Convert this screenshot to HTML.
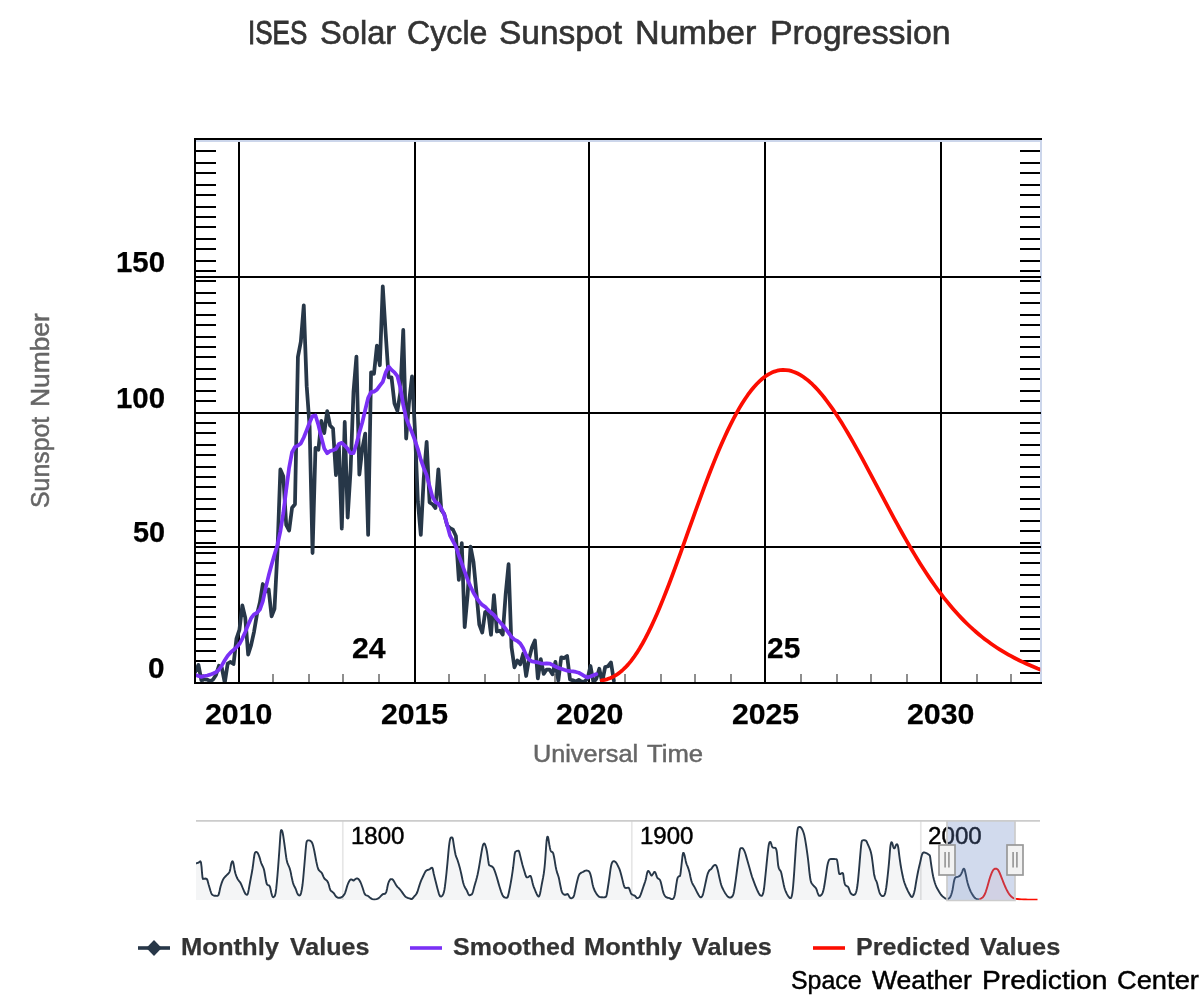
<!DOCTYPE html>
<html lang="en"><head><meta charset="utf-8"><title>ISES Solar Cycle Sunspot Number Progression</title>
<style>
html,body{margin:0;padding:0;background:#fff;}
body{width:1200px;height:1000px;position:relative;overflow:hidden;font-family:"Liberation Sans",sans-serif;}
.t{position:absolute;white-space:nowrap;line-height:1;transform-origin:0 0;display:block;}
.c{transform:translateX(-50%);}
.b{font-weight:bold;}
.s1{-webkit-text-stroke:0.6px #333;}
.s2{-webkit-text-stroke:0.5px #666;}
.s3{-webkit-text-stroke:0.45px #000;}
.s4{-webkit-text-stroke:0.25px;}
</style></head>
<body>
<svg width="1200" height="1000" viewBox="0 0 1200 1000" style="position:absolute;left:0;top:0">
<defs><clipPath id="pc"><rect x="195" y="141" width="845.2" height="542"/></clipPath><clipPath id="nc"><rect x="196" y="821" width="844" height="79.5"/></clipPath></defs>
<rect width="1200" height="1000" fill="#fff"/>
<rect x="195" y="140" width="847" height="2" fill="#ccd6eb"/>
<rect x="1040" y="140" width="2" height="543" fill="#ccd6eb"/>
<rect x="238" y="142" width="2" height="541" fill="#000"/>
<rect x="414" y="142" width="2" height="541" fill="#000"/>
<rect x="588" y="142" width="2" height="541" fill="#000"/>
<rect x="764" y="142" width="2" height="541" fill="#000"/>
<rect x="940" y="142" width="2" height="541" fill="#000"/>
<rect x="196" y="276" width="845" height="2" fill="#000"/>
<rect x="196" y="412" width="845" height="2" fill="#000"/>
<rect x="196" y="546" width="845" height="2" fill="#000"/>
<path d="M196 151 h20 M1020 151 h20 M196 163 h20 M1020 163 h20 M196 173 h20 M1020 173 h20 M196 185 h20 M1020 185 h20 M196 195 h20 M1020 195 h20 M196 207 h20 M1020 207 h20 M196 217 h20 M1020 217 h20 M196 227 h20 M1020 227 h20 M196 239 h20 M1020 239 h20 M196 249 h20 M1020 249 h20 M196 261 h20 M1020 261 h20 M196 271 h20 M1020 271 h20 M196 281 h20 M1020 281 h20 M196 293 h20 M1020 293 h20 M196 303 h20 M1020 303 h20 M196 315 h20 M1020 315 h20 M196 325 h20 M1020 325 h20 M196 337 h20 M1020 337 h20 M196 347 h20 M1020 347 h20 M196 357 h20 M1020 357 h20 M196 369 h20 M1020 369 h20 M196 379 h20 M1020 379 h20 M196 391 h20 M1020 391 h20 M196 401 h20 M1020 401 h20 M196 413 h20 M1020 413 h20 M196 423 h20 M1020 423 h20 M196 433 h20 M1020 433 h20 M196 445 h20 M1020 445 h20 M196 455 h20 M1020 455 h20 M196 467 h20 M1020 467 h20 M196 477 h20 M1020 477 h20 M196 487 h20 M1020 487 h20 M196 499 h20 M1020 499 h20 M196 509 h20 M1020 509 h20 M196 521 h20 M1020 521 h20 M196 531 h20 M1020 531 h20 M196 543 h20 M1020 543 h20 M196 553 h20 M1020 553 h20 M196 563 h20 M1020 563 h20 M196 575 h20 M1020 575 h20 M196 585 h20 M1020 585 h20 M196 597 h20 M1020 597 h20 M196 607 h20 M1020 607 h20 M196 617 h20 M1020 617 h20 M196 629 h20 M1020 629 h20 M196 639 h20 M1020 639 h20 M196 651 h20 M1020 651 h20 M196 661 h20 M1020 661 h20 M1020 673 h20" stroke="#000" stroke-width="1.8" fill="none"/>
<path d="M203 674 v8 M273 674 v8 M309 674 v8 M343 674 v8 M379 674 v8 M449 674 v8 M485 674 v8 M519 674 v8 M555 674 v8 M625 674 v8 M661 674 v8 M695 674 v8 M731 674 v8 M801 674 v8 M837 674 v8 M871 674 v8 M907 674 v8 M977 674 v8 M1011 674 v8" stroke="#8e8e8e" stroke-width="2" fill="none"/>
<g clip-path="url(#pc)" fill="none" stroke-linejoin="round" stroke-linecap="round">
<path d="M195.51 671.4 L198.44 664.89 L201.36 680.09 L204.29 679.27 L207.22 679.54 L210.14 681.17 L213.07 679.54 L215.99 674.93 L218.92 665.7 L221.84 667.87 L224.77 682.8 L227.7 663.53 L230.62 661.9 L233.55 664.07 L236.47 638.56 L239.4 629.88 L242.33 605.45 L245.25 617.66 L248.18 654.57 L251.1 645.08 L254.03 631.78 L256.95 614.41 L259.88 602.47 L262.81 584.01 L265.73 591.61 L268.66 589.44 L271.58 616.31 L274.51 608.71 L277.44 551.71 L280.36 469.48 L283.29 476.26 L286.21 524.85 L289.14 530.54 L292.06 507.75 L294.99 504.22 L297.92 356.85 L300.84 341.65 L303.77 305.28 L306.69 386.16 L309.62 426.6 L312.55 553.07 L315.47 447.77 L318.4 449.67 L321.32 420.9 L324.25 433.11 L327.18 411.13 L330.1 425.51 L333.03 428.5 L335.95 475.18 L338.88 445.05 L341.8 528.64 L344.73 421.98 L347.66 517.52 L350.58 470.29 L353.51 391.59 L356.43 356.58 L359.36 474.64 L362.28 448.85 L365.21 433.65 L368.14 534.89 L371.06 372.32 L373.99 373.68 L376.91 345.72 L379.84 365.26 L382.77 286.28 L385.69 333.51 L388.62 377.47 L391.54 377.47 L394.47 403.53 L397.39 410.86 L400.32 392.67 L403.25 329.98 L406.17 438.54 L409.1 401.63 L412.02 376.39 L414.95 430.4 L417.88 501.78 L420.8 534.89 L423.73 478.44 L426.65 441.8 L429.58 502.32 L432.5 504.22 L435.43 508.02 L438.36 469.48 L441.28 510.19 L444.21 513.99 L447.13 525.39 L450.06 528.1 L452.99 529.73 L455.91 535.97 L458.84 579.94 L461.76 543.03 L464.69 627.16 L467.62 594.87 L470.54 546.56 L473.47 561.76 L476.39 592.15 L479.32 624.72 L482.24 632.59 L485.17 611.96 L488.1 611.15 L491.02 634.76 L493.95 595.14 L496.87 631.51 L499.8 630.69 L502.73 634.49 L505.65 594.32 L508.58 564.2 L511.5 646.98 L514.43 667.33 L517.35 660.55 L520.28 664.34 L523.21 653.76 L526.13 676.01 L529.06 658.65 L531.98 647.25 L534.91 640.46 L537.84 678.46 L540.76 659.19 L543.69 673.84 L546.61 669.5 L549.54 669.5 L552.46 674.39 L555.39 661.9 L558.32 680.63 L561.24 657.29 L564.17 658.1 L567.09 655.93 L570.02 679.54 L572.95 680.36 L575.87 681.44 L578.8 679.81 L581.72 681.71 L584.65 681.44 L587.57 678.73 L590.5 665.97 L593.43 682.26 L596.35 678.73 L599.28 668.69 L602.2 682.26 L605.13 667.06 L608.05 666.24 L610.98 662.44 L613.91 680.9" stroke="#273748" stroke-width="3.75"/>
<path d="M195.51 674.93 L198.44 676.01 L201.36 676.83 L204.29 676.01 L207.22 675.47 L210.14 674.66 L213.07 673.57 L215.99 672.22 L218.92 669.77 L221.84 665.43 L224.77 660.27 L227.7 655.66 L230.62 652.4 L233.55 649.96 L236.47 647.25 L239.4 643.99 L242.33 638.56 L245.25 632.05 L248.18 624.72 L251.1 618.21 L254.03 614.41 L256.95 612.78 L259.88 609.52 L262.81 601.38 L265.73 587.81 L268.66 575.6 L271.58 564.74 L274.51 554.43 L277.44 544.93 L280.36 531.36 L283.29 513.17 L286.21 490.11 L289.14 467.58 L292.06 452.11 L294.99 446.95 L297.92 445.6 L300.84 443.43 L303.77 437.45 L306.69 430.13 L309.62 422.53 L312.55 416.01 L315.47 415.47 L318.4 424.97 L321.32 437.18 L324.25 448.58 L327.18 453.2 L330.1 451.02 L333.03 450.21 L335.95 448.85 L338.88 443.97 L341.8 442.88 L344.73 445.6 L347.66 448.85 L350.58 453.2 L353.51 453.2 L356.43 443.97 L359.36 432.57 L362.28 422.53 L365.21 410.04 L368.14 397.83 L371.06 392.13 L373.99 391.59 L376.91 389.69 L379.84 385.62 L382.77 381.82 L385.69 372.59 L388.62 366.62 L391.54 369.88 L394.47 372.32 L397.39 376.12 L400.32 387.52 L403.25 404.89 L406.17 418.18 L409.1 425.78 L412.02 432.57 L414.95 440.44 L417.88 449.12 L420.8 459.71 L423.73 467.85 L426.65 475.18 L429.58 486.31 L432.5 496.89 L435.43 502.05 L438.36 503.68 L441.28 508.29 L444.21 514.53 L447.13 524.85 L450.06 535.7 L452.99 541.13 L455.91 546.56 L458.84 555.51 L461.76 563.38 L464.69 571.53 L467.62 579.67 L470.54 586.45 L473.47 592.7 L476.39 597.58 L479.32 601.65 L482.24 604.91 L485.17 606.81 L488.1 610.06 L491.02 612.51 L493.95 614.95 L496.87 618.75 L499.8 622.01 L502.73 625.26 L505.65 628.79 L508.58 632.86 L511.5 636.93 L514.43 639.65 L517.35 641 L520.28 643.45 L523.21 648.33 L526.13 655.12 L529.06 659.73 L531.98 661.36 L534.91 661.9 L537.84 662.44 L540.76 663.26 L543.69 663.53 L546.61 663.26 L549.54 663.53 L552.46 664.89 L555.39 666.52 L558.32 667.87 L561.24 668.69 L564.17 669.77 L567.09 670.59 L570.02 671.13 L572.95 671.4 L575.87 671.94 L578.8 672.76 L581.72 674.39 L584.65 676.29 L587.57 677.37 L590.5 676.56 L593.43 675.2 L596.35 674.12" stroke="#7a30f5" stroke-width="3.75"/>
<path d="M601.7 680.41 L604.62 679.86 L607.55 679.07 L610.47 678 L613.4 676.63 L616.32 674.93 L619.25 672.89 L622.17 670.5 L625.1 667.73 L628.02 664.6 L630.95 661.08 L633.87 657.19 L636.8 652.91 L639.72 648.27 L642.65 643.26 L645.57 637.89 L648.5 632.19 L651.42 626.16 L654.35 619.82 L657.27 613.19 L660.2 606.29 L663.12 599.15 L666.05 591.79 L668.97 584.23 L671.9 576.49 L674.82 568.62 L677.75 560.62 L680.67 552.53 L683.6 544.37 L686.52 536.18 L689.45 527.97 L692.37 519.78 L695.3 511.62 L698.22 503.53 L701.15 495.52 L704.07 487.63 L707 479.87 L709.92 472.27 L712.85 464.83 L715.77 457.59 L718.7 450.56 L721.62 443.75 L724.55 437.19 L727.47 430.87 L730.4 424.82 L733.32 419.05 L736.25 413.57 L739.17 408.39 L742.1 403.51 L745.02 398.95 L747.95 394.71 L750.87 390.79 L753.8 387.21 L756.72 383.96 L759.65 381.05 L762.57 378.48 L765.5 376.25 L768.42 374.36 L771.35 372.8 L774.27 371.59 L777.2 370.7 L780.12 370.15 L783.05 369.92 L785.97 370.02 L788.9 370.43 L791.82 371.15 L794.75 372.17 L797.67 373.49 L800.6 375.09 L803.52 376.98 L806.45 379.14 L809.37 381.56 L812.3 384.23 L815.22 387.15 L818.15 390.3 L821.07 393.67 L824 397.26 L826.92 401.05 L829.85 405.03 L832.77 409.18 L835.7 413.51 L838.62 417.99 L841.55 422.62 L844.47 427.39 L847.4 432.28 L850.32 437.28 L853.25 442.38 L856.17 447.57 L859.1 452.85 L862.02 458.19 L864.95 463.59 L867.87 469.05 L870.8 474.54 L873.72 480.06 L876.65 485.59 L879.57 491.13 L882.5 496.67 L885.42 502.19 L888.35 507.69 L891.27 513.15 L894.2 518.57 L897.12 523.94 L900.05 529.25 L902.97 534.49 L905.9 539.66 L908.82 544.74 L911.75 549.74 L914.67 554.65 L917.6 559.46 L920.52 564.16 L923.45 568.76 L926.37 573.25 L929.3 577.63 L932.22 581.89 L935.15 586.04 L938.07 590.07 L941 593.98 L943.92 597.77 L946.85 601.45 L949.77 605.01 L952.7 608.45 L955.62 611.78 L958.55 614.99 L961.47 618.09 L964.4 621.08 L967.32 623.97 L970.25 626.75 L973.17 629.43 L976.1 632 L979.02 634.48 L981.95 636.87 L984.87 639.16 L987.8 641.36 L990.72 643.48 L993.65 645.52 L996.57 647.48 L999.5 649.36 L1002.42 651.17 L1005.35 652.91 L1008.27 654.59 L1011.2 656.2 L1014.12 657.76 L1017.05 659.26 L1019.97 660.71 L1022.9 662.12 L1025.82 663.48 L1028.75 664.8 L1031.67 666.09 L1034.6 667.34 L1037.52 668.56 L1040.45 669.67 L1043.37 670.54 L1046.3 671.36 L1049.22 672.14 L1052.15 672.87 L1055.07 673.55" stroke="#fc0d01" stroke-width="3.75"/>
</g>
<rect x="194" y="138" width="848" height="2" fill="#000"/>
<rect x="194" y="138" width="2" height="546" fill="#000"/>
<rect x="194" y="682" width="848" height="2" fill="#000"/>
<rect x="341.95" y="821" width="1.7" height="79" fill="#e6e6e6"/>
<rect x="630.95" y="821" width="1.7" height="79" fill="#e6e6e6"/>
<rect x="919.95" y="821" width="1.7" height="79" fill="#e6e6e6"/>
<g clip-path="url(#nc)">
<path d="M196 863.5 L196.73 863.2 L197.77 862.8 L198.75 862.5 L199.56 861.87 L200.32 861.35 L201 862.5 L201.56 866.9 L202.03 872.96 L202.5 877.5 L202.95 878.97 L203.4 878.92 L204 878.75 L204.9 878.69 L205.94 878.53 L206.88 879 L207.55 880.5 L208.12 882.63 L208.75 885 L209.56 887.77 L210.44 890.78 L211.25 893.12 L211.9 894.33 L212.47 894.88 L213.12 895.25 L213.89 895.58 L214.74 895.74 L215.62 895.75 L216.58 895.89 L217.58 895.89 L218.5 895 L219.25 892.61 L219.91 889.32 L220.62 886.25 L221.43 883.68 L222.27 881.32 L223.12 879.38 L223.95 878.04 L224.79 877.11 L225.62 876.25 L226.49 875.37 L227.35 874.56 L228.12 873.75 L228.73 873.1 L229.25 872.45 L229.75 871.25 L230.27 868.94 L230.77 866.06 L231.25 863.75 L231.69 862.36 L232.11 861.53 L232.5 861.25 L232.83 861.5 L233.14 862.31 L233.5 863.75 L233.95 866.14 L234.45 869.15 L235 871.88 L235.6 874.03 L236.24 875.9 L236.88 877.5 L237.5 878.75 L238.13 879.72 L238.75 880.62 L239.37 881.43 L240 882.17 L240.62 883.12 L241.22 884.39 L241.83 885.88 L242.5 887.5 L243.31 889.43 L244.19 891.5 L245 893.12 L245.7 894.1 L246.32 894.64 L246.88 894.75 L247.32 894.57 L247.68 893.97 L248.12 892.5 L248.68 889.88 L249.3 886.4 L250 882.5 L250.81 878.19 L251.69 873.47 L252.5 868.75 L253.2 863.76 L253.82 858.78 L254.38 855 L254.82 853.1 L255.18 852.42 L255.62 852.12 L256.2 851.94 L256.85 852.15 L257.5 852.75 L258.13 853.79 L258.75 855.22 L259.38 856.88 L259.98 858.83 L260.58 861.01 L261.25 863.12 L262.08 865.02 L262.99 866.85 L263.75 868.75 L264.25 870.72 L264.61 872.76 L265 875 L265.49 877.8 L266.01 880.81 L266.5 883.12 L266.91 884.23 L267.29 884.65 L267.75 885 L268.38 885.28 L269.09 885.49 L269.75 886.25 L270.3 888.05 L270.79 890.4 L271.25 892.5 L271.69 894.13 L272.09 895.52 L272.5 896.5 L272.89 897.05 L273.29 897.19 L273.75 896.88 L274.33 896.47 L274.97 895.59 L275.62 893.12 L276.25 888.4 L276.87 882.08 L277.5 875 L278.15 866.9 L278.8 858.03 L279.38 850 L279.85 843.05 L280.25 836.93 L280.62 832.5 L280.97 830.43 L281.29 830.06 L281.62 830.25 L281.97 830.54 L282.33 831.4 L282.75 833.12 L283.25 835.97 L283.8 839.69 L284.38 843.75 L285.01 848.4 L285.66 853.4 L286.25 857.5 L286.69 860.02 L287.06 861.64 L287.5 863.12 L288.1 864.67 L288.78 866.09 L289.38 867.5 L289.84 868.89 L290.23 870.28 L290.62 871.88 L291.03 873.82 L291.43 875.97 L291.88 878.12 L292.37 880.28 L292.91 882.43 L293.5 884.38 L294.18 885.95 L294.91 887.32 L295.62 888.75 L296.28 890.5 L296.91 892.32 L297.5 893.75 L298.02 894.6 L298.51 895.06 L299 895.25 L299.52 895.45 L300.06 895.39 L300.62 894.38 L301.23 892.28 L301.86 889.23 L302.5 885 L303.14 879.07 L303.77 871.97 L304.38 865 L304.97 858.15 L305.52 851.44 L306 846.25 L306.32 843.41 L306.56 842.1 L306.88 841.25 L307.35 840.6 L307.9 840.41 L308.5 840.38 L309.18 840.4 L309.91 840.58 L310.62 841 L311.26 841.58 L311.88 842.4 L312.5 843.75 L313.13 845.81 L313.75 848.39 L314.38 851.25 L315 854.49 L315.63 858.01 L316.25 861.25 L316.87 864.12 L317.5 866.71 L318.12 868.75 L318.75 869.98 L319.37 870.65 L320 871.25 L320.6 871.79 L321.21 872.26 L321.88 873.12 L322.67 874.77 L323.52 876.82 L324.38 878.5 L325.25 879.41 L326.11 879.96 L326.88 880.62 L327.48 881.48 L327.98 882.46 L328.5 883.75 L329.08 885.69 L329.67 887.96 L330.25 889.75 L330.79 890.65 L331.32 891.08 L331.88 891.5 L332.49 892 L333.12 892.49 L333.75 893.12 L334.37 894.04 L335 895.1 L335.62 896 L336.22 896.65 L336.83 897.14 L337.5 897.5 L338.29 897.73 L339.14 897.82 L340 897.75 L340.83 897.52 L341.67 897.13 L342.5 896.5 L343.33 895.71 L344.17 894.68 L345 893.12 L345.83 890.65 L346.67 887.65 L347.5 885 L348.36 882.93 L349.21 881.21 L350 880 L350.68 879.48 L351.3 879.47 L351.88 879.62 L352.44 879.93 L352.98 880.4 L353.5 880.62 L353.99 880.36 L354.48 879.86 L355 879.38 L355.6 878.95 L356.24 878.56 L356.88 878.38 L357.5 878.49 L358.13 878.82 L358.75 879.38 L359.37 880.19 L360 881.24 L360.62 882.5 L361.25 884 L361.87 885.72 L362.5 887.5 L363.15 889.47 L363.8 891.5 L364.38 893.12 L364.79 894.06 L365.14 894.58 L365.62 895 L366.36 895.36 L367.24 895.62 L368.12 896 L368.95 896.66 L369.79 897.44 L370.62 898.12 L371.45 898.65 L372.29 899.09 L373.12 899.38 L373.93 899.52 L374.74 899.52 L375.62 899.38 L376.62 899.12 L377.68 898.72 L378.75 898.12 L379.86 897.14 L380.98 895.95 L381.88 895 L382.41 894.48 L382.73 894.2 L383.12 894 L383.71 893.94 L384.38 893.97 L385 893.75 L385.52 893.27 L386.01 892.54 L386.5 891.25 L387.02 888.99 L387.56 886.18 L388.12 883.75 L388.74 882.03 L389.39 880.7 L390 879.75 L390.52 879.23 L391.01 879.09 L391.5 879.12 L392.02 879.22 L392.56 879.48 L393.12 880 L393.73 880.87 L394.36 882 L395 883.12 L395.6 884.19 L396.21 885.25 L396.88 886.25 L397.67 887.11 L398.52 887.89 L399.38 888.75 L400.19 889.7 L401 890.72 L401.88 891.88 L402.9 893.35 L403.98 894.96 L405 896.25 L405.88 896.99 L406.69 897.41 L407.5 897.75 L408.36 898.06 L409.21 898.3 L410 898.5 L410.65 898.81 L411.23 899.08 L411.88 899 L412.67 898.34 L413.52 897.32 L414.38 896.25 L415.24 895.33 L416.09 894.36 L416.88 893.12 L417.55 891.43 L418.15 889.47 L418.75 887.5 L419.35 885.63 L419.95 883.75 L420.62 881.88 L421.41 879.98 L422.26 878.08 L423.12 876.25 L423.98 874.4 L424.83 872.62 L425.62 871.25 L426.29 870.53 L426.9 870.23 L427.5 870 L428.14 869.77 L428.77 869.61 L429.38 869.38 L429.94 868.96 L430.48 868.47 L431 868.12 L431.52 867.82 L432.02 867.66 L432.5 868.12 L432.91 869.51 L433.3 871.53 L433.75 873.75 L434.33 876.11 L434.97 878.68 L435.62 881.25 L436.25 883.8 L436.87 886.34 L437.5 888.75 L438.14 891.1 L438.77 893.31 L439.38 895 L439.93 895.96 L440.46 896.4 L441 896.5 L441.58 896.35 L442.17 895.87 L442.75 895 L443.3 893.87 L443.84 892.35 L444.38 890 L444.93 886.48 L445.47 882.13 L446 877.5 L446.51 872.73 L447 867.69 L447.5 862.5 L448.01 856.85 L448.52 851.06 L449 846.25 L449.44 842.87 L449.84 840.46 L450.25 838.75 L450.67 837.79 L451.08 837.52 L451.5 837.5 L451.92 837.42 L452.33 837.58 L452.75 838.5 L453.15 840.55 L453.56 843.34 L454 846.25 L454.5 849.23 L455.05 852.32 L455.62 855 L456.23 856.9 L456.86 858.38 L457.5 860 L458.13 861.94 L458.75 864.03 L459.38 866.25 L460 868.61 L460.63 871.11 L461.25 873.75 L461.87 876.71 L462.5 879.81 L463.12 882.5 L463.75 884.51 L464.37 886.11 L465 887.5 L465.63 888.64 L466.25 889.57 L466.88 890.62 L467.5 892.07 L468.13 893.62 L468.75 894.75 L469.37 895.2 L470 895.22 L470.62 895 L471.25 894.72 L471.87 894.2 L472.5 893.12 L473.1 891.27 L473.71 888.86 L474.38 886.25 L475.19 883.47 L476.07 880.49 L476.88 877.5 L477.55 874.68 L478.15 871.85 L478.75 868.75 L479.37 865.16 L480 861.3 L480.62 857.5 L481.27 853.64 L481.92 849.84 L482.5 846.88 L482.96 845.14 L483.36 844.24 L483.75 843.75 L484.14 843.45 L484.54 843.57 L485 844.38 L485.58 846 L486.23 848.31 L486.88 851.25 L487.53 855.39 L488.17 860.16 L488.75 863.75 L489.17 865.18 L489.51 865.44 L490 865.62 L490.76 866.02 L491.67 866.34 L492.5 866.88 L493.15 867.62 L493.73 868.57 L494.38 870 L495.17 872.13 L496.02 874.75 L496.88 877.5 L497.71 880.37 L498.55 883.38 L499.38 886.25 L500.24 889 L501.09 891.62 L501.88 893.75 L502.54 895.2 L503.12 896.17 L503.75 896.88 L504.49 897.4 L505.27 897.67 L506 897.75 L506.62 897.81 L507.19 897.68 L507.75 896.88 L508.29 895.15 L508.82 892.75 L509.38 890 L509.99 886.99 L510.62 883.63 L511.25 880 L511.88 876.06 L512.51 871.85 L513.12 867.5 L513.69 862.59 L514.23 857.55 L514.75 853.75 L515.26 852 L515.75 851.51 L516.25 851.25 L516.76 850.94 L517.27 850.87 L517.75 850.88 L518.17 850.73 L518.57 850.66 L519 851.25 L519.5 852.85 L520.05 855.11 L520.62 857.5 L521.23 859.95 L521.86 862.55 L522.5 865 L523.13 867.2 L523.75 869.26 L524.38 871.25 L525 873.37 L525.63 875.43 L526.25 876.88 L526.87 877.41 L527.5 877.35 L528.12 877.12 L528.77 876.71 L529.42 876.14 L530 875.88 L530.44 875.99 L530.81 876.42 L531.25 877.5 L531.83 879.66 L532.47 882.47 L533.12 885 L533.73 886.85 L534.35 888.43 L535 890 L535.75 891.8 L536.54 893.59 L537.25 895 L537.81 895.92 L538.3 896.44 L538.75 896.5 L539.16 896.17 L539.55 895.36 L540 893.75 L540.58 890.95 L541.23 887.35 L541.88 883.75 L542.53 880.46 L543.17 877.18 L543.75 873.75 L544.21 870.32 L544.61 866.76 L545 862.5 L545.43 856.76 L545.86 850.32 L546.25 845 L546.56 841.48 L546.83 839.07 L547.12 837.5 L547.43 836.67 L547.76 836.67 L548.12 837.5 L548.52 839.51 L548.95 842.36 L549.38 845 L549.79 847.17 L550.21 849.14 L550.62 850.62 L551.04 851.36 L551.46 851.62 L551.88 851.88 L552.29 852.13 L552.71 852.38 L553.12 853.12 L553.54 854.6 L553.96 856.57 L554.38 858.75 L554.79 861.18 L555.21 863.82 L555.62 866.25 L556.02 868.27 L556.41 870.07 L556.88 871.88 L557.47 873.68 L558.13 875.49 L558.75 877.5 L559.27 879.88 L559.75 882.48 L560.25 885 L560.77 887.5 L561.31 889.93 L561.88 891.88 L562.49 893.12 L563.12 893.87 L563.75 894.38 L564.37 894.7 L565 894.79 L565.62 894.75 L566.27 894.5 L566.92 894.12 L567.5 894 L567.96 894.35 L568.36 894.95 L568.75 895.62 L569.14 896.36 L569.54 897.15 L570 897.75 L570.58 898.09 L571.23 898.23 L571.88 898.12 L572.53 897.78 L573.17 897.19 L573.75 896.25 L574.19 894.95 L574.56 893.31 L575 891.25 L575.58 888.54 L576.23 885.42 L576.88 882.5 L577.5 879.91 L578.13 877.52 L578.75 875.62 L579.35 874.42 L579.95 873.7 L580.62 873.12 L581.41 872.61 L582.26 872.25 L583.12 871.88 L583.95 871.41 L584.79 870.93 L585.62 870.62 L586.49 870.54 L587.35 870.64 L588.12 870.88 L588.73 871.19 L589.25 871.66 L589.75 872.5 L590.26 873.82 L590.75 875.52 L591.25 877.5 L591.75 879.91 L592.24 882.59 L592.75 885 L593.25 886.87 L593.77 888.47 L594.38 890 L595.15 891.58 L596.01 893.08 L596.88 894.38 L597.71 895.43 L598.55 896.27 L599.38 896.88 L600.21 897.17 L601.05 897.23 L601.88 897.25 L602.74 897.31 L603.59 897.34 L604.38 897.25 L605.07 897.19 L605.7 897.01 L606.25 896.25 L606.69 894.79 L607.06 892.74 L607.5 890 L608.09 886.25 L608.75 881.81 L609.38 877.5 L609.94 873.4 L610.48 869.44 L611 866.25 L611.5 864.15 L612 862.8 L612.5 861.88 L613.02 861.32 L613.56 861.18 L614.12 861.25 L614.72 861.43 L615.35 861.83 L616 862.5 L616.7 863.54 L617.42 864.86 L618.12 866.25 L618.76 867.57 L619.38 868.95 L620 870.62 L620.63 872.7 L621.25 875.07 L621.88 877.5 L622.53 880.13 L623.17 882.83 L623.75 885 L624.19 886.37 L624.56 887.2 L625 887.75 L625.58 887.99 L626.23 887.94 L626.88 887.88 L627.53 887.79 L628.17 887.68 L628.75 887.88 L629.21 888.58 L629.61 889.58 L630 890.62 L630.39 891.7 L630.79 892.83 L631.25 893.75 L631.83 894.32 L632.47 894.68 L633.12 895 L633.75 895.27 L634.37 895.5 L635 895.88 L635.63 896.63 L636.25 897.53 L636.88 898.12 L637.53 898.15 L638.17 897.86 L638.75 897.5 L639.19 897.27 L639.56 896.97 L640 896.25 L640.58 894.88 L641.23 893.1 L641.88 891.25 L642.5 889.42 L643.13 887.52 L643.75 885.62 L644.38 883.82 L645.01 882.01 L645.62 880 L646.2 877.42 L646.74 874.63 L647.25 872.5 L647.69 871.42 L648.08 871.01 L648.5 871 L648.98 871.42 L649.49 872.25 L650 873.12 L650.5 874.09 L650.99 875.1 L651.5 875.62 L652.04 875.32 L652.6 874.54 L653.12 873.75 L653.57 873.01 L653.97 872.27 L654.38 871.88 L654.79 871.97 L655.21 872.4 L655.62 873.12 L656.04 874.27 L656.46 875.69 L656.88 876.88 L657.27 877.58 L657.66 878.05 L658.12 878.5 L658.71 878.88 L659.38 879.25 L660 880 L660.52 881.34 L661.01 883.06 L661.5 885 L662.02 887.26 L662.56 889.72 L663.12 891.88 L663.73 893.55 L664.36 894.92 L665 896 L665.6 896.73 L666.21 897.16 L666.88 897.5 L667.69 897.76 L668.57 897.93 L669.38 898.12 L670.05 898.44 L670.65 898.78 L671.25 899 L671.88 899.13 L672.51 899.13 L673.12 898.75 L673.69 897.99 L674.23 896.84 L674.75 895 L675.27 892.01 L675.77 888.33 L676.25 885 L676.68 882.29 L677.07 879.93 L677.5 878.12 L677.99 877.1 L678.51 876.64 L679 876.25 L679.44 876.11 L679.84 876.04 L680.25 875 L680.67 872.34 L681.08 868.7 L681.5 865 L681.93 861.16 L682.35 857.25 L682.75 854.38 L683.1 853.1 L683.43 852.87 L683.75 853.12 L684.06 853.7 L684.38 854.77 L684.75 856.25 L685.21 858.38 L685.73 860.92 L686.25 863.12 L686.75 864.56 L687.24 865.65 L687.75 866.88 L688.28 868.36 L688.83 869.98 L689.38 871.88 L689.93 874.31 L690.47 877.02 L691 879.38 L691.49 881.11 L691.98 882.5 L692.5 883.75 L693.08 884.82 L693.69 885.74 L694.38 886.88 L695.17 888.43 L696.02 890.19 L696.88 891.88 L697.75 893.51 L698.62 895.07 L699.38 896.25 L699.95 896.93 L700.41 897.24 L700.88 897.25 L701.42 897.05 L701.96 896.56 L702.5 895.62 L703 894.11 L703.5 892.16 L704 890 L704.52 887.66 L705.06 885.12 L705.62 882.5 L706.23 879.69 L706.86 876.8 L707.5 874.38 L708.13 872.64 L708.75 871.37 L709.38 870.38 L710 869.78 L710.63 869.46 L711.25 869 L711.88 868.13 L712.51 867.11 L713.12 866.25 L713.69 865.65 L714.23 865.22 L714.75 865 L715.26 864.93 L715.75 865.07 L716.25 865.62 L716.75 866.69 L717.24 868.17 L717.75 870 L718.27 872.27 L718.81 874.88 L719.38 877.5 L719.99 880.12 L720.62 882.73 L721.25 885 L721.85 886.69 L722.45 888.04 L723.12 889.38 L723.91 890.88 L724.76 892.39 L725.62 893.75 L726.48 894.98 L727.33 896.07 L728.12 896.88 L728.79 897.32 L729.4 897.48 L730 897.5 L730.64 897.48 L731.27 897.32 L731.88 896.88 L732.44 896.23 L732.98 895.3 L733.5 893.75 L733.99 891.43 L734.48 888.5 L735 885 L735.6 880.79 L736.24 876.02 L736.88 871.25 L737.53 866.46 L738.17 861.67 L738.75 857.5 L739.2 854.12 L739.59 851.37 L740 849.38 L740.48 848.38 L740.98 848.15 L741.5 848.12 L742.02 848.07 L742.56 848.24 L743.12 848.75 L743.73 849.68 L744.36 850.95 L745 852.5 L745.6 854.31 L746.21 856.39 L746.88 858.75 L747.67 861.48 L748.52 864.49 L749.38 867.5 L750.21 870.49 L751.05 873.47 L751.88 876.25 L752.71 878.7 L753.55 880.94 L754.38 883.12 L755.21 885.3 L756.05 887.41 L756.88 889.38 L757.75 891.28 L758.61 893.04 L759.38 894.38 L759.99 895.14 L760.5 895.48 L761 895.62 L761.51 895.76 L762 895.69 L762.5 895 L763 893.66 L763.49 891.69 L764 888.75 L764.53 884.44 L765.07 879.17 L765.62 873.75 L766.17 868.29 L766.72 862.69 L767.25 857.5 L767.77 852.71 L768.27 848.33 L768.75 845 L769.19 843.1 L769.61 842.25 L770 841.88 L770.34 841.88 L770.66 842.36 L771 843.12 L771.39 844.29 L771.81 845.74 L772.25 846.88 L772.72 847.45 L773.21 847.71 L773.75 847.88 L774.37 847.86 L775.03 847.76 L775.62 848.12 L776.09 848.97 L776.48 850.29 L776.88 852.5 L777.29 856.37 L777.71 861.13 L778.12 865 L778.53 867.13 L778.93 868.36 L779.38 869.38 L779.9 870.19 L780.46 870.79 L781 871.88 L781.49 873.78 L781.98 876.16 L782.5 878.75 L783.1 881.67 L783.74 884.79 L784.38 887.5 L785 889.5 L785.63 891.08 L786.25 892.5 L786.87 893.83 L787.5 894.99 L788.12 896 L788.76 896.93 L789.4 897.71 L790 898.12 L790.54 898.16 L791.03 897.84 L791.5 896.88 L791.94 895.31 L792.34 893.1 L792.75 890 L793.17 885.74 L793.58 880.58 L794 875 L794.42 868.98 L794.83 862.55 L795.25 856.25 L795.67 850.05 L796.08 843.98 L796.5 838.75 L796.92 834.55 L797.33 831.19 L797.75 828.75 L798.15 827.52 L798.56 827.22 L799 827.12 L799.5 826.94 L800.05 826.95 L800.62 827.25 L801.23 827.87 L801.86 828.77 L802.5 830 L803.13 831.48 L803.75 833.27 L804.38 835.62 L805 838.68 L805.63 842.29 L806.25 846.25 L806.88 850.56 L807.51 855.21 L808.12 860 L808.7 865.21 L809.24 870.56 L809.75 875 L810.19 878.06 L810.58 880.21 L811 881.88 L811.47 883.05 L811.96 883.74 L812.5 884.38 L813.1 885.11 L813.74 885.8 L814.38 886.5 L815.02 887.16 L815.65 887.84 L816.25 888.75 L816.79 890.12 L817.28 891.72 L817.75 893.12 L818.17 894.18 L818.57 895.04 L819 895.62 L819.5 895.9 L820.05 895.9 L820.62 895.62 L821.24 895.09 L821.89 894.28 L822.5 893.12 L823.02 891.64 L823.51 889.81 L824 887.5 L824.53 884.54 L825.07 881.09 L825.62 877.5 L826.17 873.63 L826.72 869.63 L827.25 866.25 L827.76 863.8 L828.25 861.98 L828.75 860.62 L829.22 859.76 L829.69 859.36 L830.25 859.12 L830.94 858.97 L831.7 858.97 L832.5 859 L833.34 859 L834.2 859.03 L835 859.12 L835.71 859.12 L836.34 859.18 L836.88 859.75 L837.27 861.05 L837.57 862.87 L837.88 865 L838.24 867.76 L838.61 870.84 L839 873.12 L839.39 874.01 L839.8 874.11 L840.25 874 L840.78 873.78 L841.35 873.37 L841.88 873.12 L842.34 873.01 L842.75 873.07 L843.12 873.75 L843.44 875.49 L843.71 877.85 L844 880 L844.31 881.7 L844.63 883.19 L845 884.38 L845.46 885.15 L845.97 885.62 L846.5 886 L847.04 886.27 L847.6 886.45 L848.12 886.88 L848.57 887.75 L848.97 888.88 L849.38 890 L849.77 891.1 L850.16 892.19 L850.62 893.12 L851.2 893.83 L851.85 894.38 L852.5 894.75 L853.14 894.95 L853.77 894.98 L854.38 894.75 L854.94 894.36 L855.48 893.72 L856 892.5 L856.51 890.67 L857 888.25 L857.5 885 L858.01 880.56 L858.52 875.28 L859 870 L859.44 864.91 L859.84 859.81 L860.25 855 L860.67 850.26 L861.08 845.81 L861.5 842.5 L861.9 840.95 L862.31 840.55 L862.75 840.38 L863.26 840.16 L863.8 840.15 L864.38 840.25 L864.99 840.31 L865.62 840.48 L866.25 841 L866.87 842.08 L867.5 843.52 L868.12 845 L868.76 846.39 L869.4 847.81 L870 849.38 L870.54 851.05 L871.03 852.85 L871.5 855 L871.94 857.64 L872.34 860.62 L872.75 863.75 L873.17 867.18 L873.58 870.74 L874 873.75 L874.4 875.83 L874.81 877.36 L875.25 878.75 L875.78 880.05 L876.35 881.2 L876.88 882.5 L877.31 884.05 L877.69 885.74 L878.12 887.5 L878.63 889.44 L879.18 891.45 L879.75 893.12 L880.33 894.26 L880.92 895.06 L881.5 895.62 L882.05 895.98 L882.58 896.1 L883.12 896 L883.67 895.8 L884.22 895.38 L884.75 894.38 L885.26 892.68 L885.75 890.4 L886.25 887.5 L886.76 883.75 L887.27 879.37 L887.75 875 L888.19 870.93 L888.59 866.85 L889 862.5 L889.43 857.31 L889.85 851.85 L890.25 847.5 L890.6 844.88 L890.93 843.38 L891.25 842.5 L891.57 842.15 L891.9 842.43 L892.25 843.12 L892.65 844.44 L893.07 846.18 L893.5 847.5 L893.92 848.12 L894.33 848.33 L894.75 848.12 L895.17 847.26 L895.58 845.99 L896 845 L896.43 844.47 L896.85 844.22 L897.25 844.38 L897.6 844.93 L897.92 845.9 L898.25 847.5 L898.61 850 L898.99 853.12 L899.38 856.25 L899.76 859.12 L900.16 861.99 L900.62 865 L901.2 868.33 L901.85 871.81 L902.5 875 L903.1 877.73 L903.71 880.19 L904.38 882.5 L905.17 884.72 L906.02 886.81 L906.88 888.75 L907.73 890.58 L908.57 892.27 L909.38 893.75 L910.13 895.09 L910.84 896.23 L911.5 896.88 L912.08 896.95 L912.6 896.53 L913.12 895.62 L913.67 894.19 L914.22 892.27 L914.75 890 L915.25 887.36 L915.73 884.38 L916.25 881.25 L916.85 877.94 L917.48 874.49 L918.12 871.25 L918.75 868.4 L919.37 865.76 L920 863.12 L920.64 860.2 L921.27 857.29 L921.88 855 L922.42 853.64 L922.93 852.91 L923.5 852.5 L924.18 852.4 L924.91 852.61 L925.62 852.88 L926.27 853.12 L926.9 853.41 L927.5 853.75 L928.09 854.14 L928.64 854.57 L929.12 855 L929.45 855.14 L929.71 855.28 L930 856.25 L930.37 858.52 L930.77 861.62 L931.25 865 L931.8 868.66 L932.43 872.59 L933.12 876.25 L933.91 879.49 L934.76 882.45 L935.62 885 L936.43 886.94 L937.24 888.47 L938.12 890 L939.12 891.75 L940.18 893.5 L941.25 895 L942.32 896.14 L943.38 897.03 L944.38 897.75 L945.28 898.34 L946.12 898.77 L946.88 899 L947.55 899.03 L948.15 898.86 L948.75 898.5 L949.37 898.03 L950 897.36 L950.62 896.25 L951.26 894.56 L951.9 892.42 L952.5 890 L953.03 887.08 L953.52 883.89 L954 881.25 L954.44 879.51 L954.87 878.33 L955.38 877.5 L956.02 877.09 L956.74 877.02 L957.5 876.88 L958.33 876.58 L959.2 876.2 L960 875.62 L960.7 874.72 L961.32 873.61 L961.88 872.5 L962.34 871.35 L962.73 870.21 L963.12 869.38 L963.54 868.9 L963.96 868.74 L964.38 869.12 L964.77 870.15 L965.16 871.72 L965.62 873.75 L966.18 876.41 L966.8 879.52 L967.5 882.5 L968.26 885.16 L969.1 887.69 L970 890 L971.02 892.11 L972.1 894.02 L973.12 895.62 L974 896.86 L974.81 897.79 L975.62 898.5 L976.5 898.98 L977.38 899.25 L978.12 899.38 L978.68 899.37 L979.1 899.23 L979.38 899.12 L979.38 900 L196 900 Z" fill="#273748" fill-opacity="0.05" stroke="none"/>
<path d="M196 863.5 L196.73 863.2 L197.77 862.8 L198.75 862.5 L199.56 861.87 L200.32 861.35 L201 862.5 L201.56 866.9 L202.03 872.96 L202.5 877.5 L202.95 878.97 L203.4 878.92 L204 878.75 L204.9 878.69 L205.94 878.53 L206.88 879 L207.55 880.5 L208.12 882.63 L208.75 885 L209.56 887.77 L210.44 890.78 L211.25 893.12 L211.9 894.33 L212.47 894.88 L213.12 895.25 L213.89 895.58 L214.74 895.74 L215.62 895.75 L216.58 895.89 L217.58 895.89 L218.5 895 L219.25 892.61 L219.91 889.32 L220.62 886.25 L221.43 883.68 L222.27 881.32 L223.12 879.38 L223.95 878.04 L224.79 877.11 L225.62 876.25 L226.49 875.37 L227.35 874.56 L228.12 873.75 L228.73 873.1 L229.25 872.45 L229.75 871.25 L230.27 868.94 L230.77 866.06 L231.25 863.75 L231.69 862.36 L232.11 861.53 L232.5 861.25 L232.83 861.5 L233.14 862.31 L233.5 863.75 L233.95 866.14 L234.45 869.15 L235 871.88 L235.6 874.03 L236.24 875.9 L236.88 877.5 L237.5 878.75 L238.13 879.72 L238.75 880.62 L239.37 881.43 L240 882.17 L240.62 883.12 L241.22 884.39 L241.83 885.88 L242.5 887.5 L243.31 889.43 L244.19 891.5 L245 893.12 L245.7 894.1 L246.32 894.64 L246.88 894.75 L247.32 894.57 L247.68 893.97 L248.12 892.5 L248.68 889.88 L249.3 886.4 L250 882.5 L250.81 878.19 L251.69 873.47 L252.5 868.75 L253.2 863.76 L253.82 858.78 L254.38 855 L254.82 853.1 L255.18 852.42 L255.62 852.12 L256.2 851.94 L256.85 852.15 L257.5 852.75 L258.13 853.79 L258.75 855.22 L259.38 856.88 L259.98 858.83 L260.58 861.01 L261.25 863.12 L262.08 865.02 L262.99 866.85 L263.75 868.75 L264.25 870.72 L264.61 872.76 L265 875 L265.49 877.8 L266.01 880.81 L266.5 883.12 L266.91 884.23 L267.29 884.65 L267.75 885 L268.38 885.28 L269.09 885.49 L269.75 886.25 L270.3 888.05 L270.79 890.4 L271.25 892.5 L271.69 894.13 L272.09 895.52 L272.5 896.5 L272.89 897.05 L273.29 897.19 L273.75 896.88 L274.33 896.47 L274.97 895.59 L275.62 893.12 L276.25 888.4 L276.87 882.08 L277.5 875 L278.15 866.9 L278.8 858.03 L279.38 850 L279.85 843.05 L280.25 836.93 L280.62 832.5 L280.97 830.43 L281.29 830.06 L281.62 830.25 L281.97 830.54 L282.33 831.4 L282.75 833.12 L283.25 835.97 L283.8 839.69 L284.38 843.75 L285.01 848.4 L285.66 853.4 L286.25 857.5 L286.69 860.02 L287.06 861.64 L287.5 863.12 L288.1 864.67 L288.78 866.09 L289.38 867.5 L289.84 868.89 L290.23 870.28 L290.62 871.88 L291.03 873.82 L291.43 875.97 L291.88 878.12 L292.37 880.28 L292.91 882.43 L293.5 884.38 L294.18 885.95 L294.91 887.32 L295.62 888.75 L296.28 890.5 L296.91 892.32 L297.5 893.75 L298.02 894.6 L298.51 895.06 L299 895.25 L299.52 895.45 L300.06 895.39 L300.62 894.38 L301.23 892.28 L301.86 889.23 L302.5 885 L303.14 879.07 L303.77 871.97 L304.38 865 L304.97 858.15 L305.52 851.44 L306 846.25 L306.32 843.41 L306.56 842.1 L306.88 841.25 L307.35 840.6 L307.9 840.41 L308.5 840.38 L309.18 840.4 L309.91 840.58 L310.62 841 L311.26 841.58 L311.88 842.4 L312.5 843.75 L313.13 845.81 L313.75 848.39 L314.38 851.25 L315 854.49 L315.63 858.01 L316.25 861.25 L316.87 864.12 L317.5 866.71 L318.12 868.75 L318.75 869.98 L319.37 870.65 L320 871.25 L320.6 871.79 L321.21 872.26 L321.88 873.12 L322.67 874.77 L323.52 876.82 L324.38 878.5 L325.25 879.41 L326.11 879.96 L326.88 880.62 L327.48 881.48 L327.98 882.46 L328.5 883.75 L329.08 885.69 L329.67 887.96 L330.25 889.75 L330.79 890.65 L331.32 891.08 L331.88 891.5 L332.49 892 L333.12 892.49 L333.75 893.12 L334.37 894.04 L335 895.1 L335.62 896 L336.22 896.65 L336.83 897.14 L337.5 897.5 L338.29 897.73 L339.14 897.82 L340 897.75 L340.83 897.52 L341.67 897.13 L342.5 896.5 L343.33 895.71 L344.17 894.68 L345 893.12 L345.83 890.65 L346.67 887.65 L347.5 885 L348.36 882.93 L349.21 881.21 L350 880 L350.68 879.48 L351.3 879.47 L351.88 879.62 L352.44 879.93 L352.98 880.4 L353.5 880.62 L353.99 880.36 L354.48 879.86 L355 879.38 L355.6 878.95 L356.24 878.56 L356.88 878.38 L357.5 878.49 L358.13 878.82 L358.75 879.38 L359.37 880.19 L360 881.24 L360.62 882.5 L361.25 884 L361.87 885.72 L362.5 887.5 L363.15 889.47 L363.8 891.5 L364.38 893.12 L364.79 894.06 L365.14 894.58 L365.62 895 L366.36 895.36 L367.24 895.62 L368.12 896 L368.95 896.66 L369.79 897.44 L370.62 898.12 L371.45 898.65 L372.29 899.09 L373.12 899.38 L373.93 899.52 L374.74 899.52 L375.62 899.38 L376.62 899.12 L377.68 898.72 L378.75 898.12 L379.86 897.14 L380.98 895.95 L381.88 895 L382.41 894.48 L382.73 894.2 L383.12 894 L383.71 893.94 L384.38 893.97 L385 893.75 L385.52 893.27 L386.01 892.54 L386.5 891.25 L387.02 888.99 L387.56 886.18 L388.12 883.75 L388.74 882.03 L389.39 880.7 L390 879.75 L390.52 879.23 L391.01 879.09 L391.5 879.12 L392.02 879.22 L392.56 879.48 L393.12 880 L393.73 880.87 L394.36 882 L395 883.12 L395.6 884.19 L396.21 885.25 L396.88 886.25 L397.67 887.11 L398.52 887.89 L399.38 888.75 L400.19 889.7 L401 890.72 L401.88 891.88 L402.9 893.35 L403.98 894.96 L405 896.25 L405.88 896.99 L406.69 897.41 L407.5 897.75 L408.36 898.06 L409.21 898.3 L410 898.5 L410.65 898.81 L411.23 899.08 L411.88 899 L412.67 898.34 L413.52 897.32 L414.38 896.25 L415.24 895.33 L416.09 894.36 L416.88 893.12 L417.55 891.43 L418.15 889.47 L418.75 887.5 L419.35 885.63 L419.95 883.75 L420.62 881.88 L421.41 879.98 L422.26 878.08 L423.12 876.25 L423.98 874.4 L424.83 872.62 L425.62 871.25 L426.29 870.53 L426.9 870.23 L427.5 870 L428.14 869.77 L428.77 869.61 L429.38 869.38 L429.94 868.96 L430.48 868.47 L431 868.12 L431.52 867.82 L432.02 867.66 L432.5 868.12 L432.91 869.51 L433.3 871.53 L433.75 873.75 L434.33 876.11 L434.97 878.68 L435.62 881.25 L436.25 883.8 L436.87 886.34 L437.5 888.75 L438.14 891.1 L438.77 893.31 L439.38 895 L439.93 895.96 L440.46 896.4 L441 896.5 L441.58 896.35 L442.17 895.87 L442.75 895 L443.3 893.87 L443.84 892.35 L444.38 890 L444.93 886.48 L445.47 882.13 L446 877.5 L446.51 872.73 L447 867.69 L447.5 862.5 L448.01 856.85 L448.52 851.06 L449 846.25 L449.44 842.87 L449.84 840.46 L450.25 838.75 L450.67 837.79 L451.08 837.52 L451.5 837.5 L451.92 837.42 L452.33 837.58 L452.75 838.5 L453.15 840.55 L453.56 843.34 L454 846.25 L454.5 849.23 L455.05 852.32 L455.62 855 L456.23 856.9 L456.86 858.38 L457.5 860 L458.13 861.94 L458.75 864.03 L459.38 866.25 L460 868.61 L460.63 871.11 L461.25 873.75 L461.87 876.71 L462.5 879.81 L463.12 882.5 L463.75 884.51 L464.37 886.11 L465 887.5 L465.63 888.64 L466.25 889.57 L466.88 890.62 L467.5 892.07 L468.13 893.62 L468.75 894.75 L469.37 895.2 L470 895.22 L470.62 895 L471.25 894.72 L471.87 894.2 L472.5 893.12 L473.1 891.27 L473.71 888.86 L474.38 886.25 L475.19 883.47 L476.07 880.49 L476.88 877.5 L477.55 874.68 L478.15 871.85 L478.75 868.75 L479.37 865.16 L480 861.3 L480.62 857.5 L481.27 853.64 L481.92 849.84 L482.5 846.88 L482.96 845.14 L483.36 844.24 L483.75 843.75 L484.14 843.45 L484.54 843.57 L485 844.38 L485.58 846 L486.23 848.31 L486.88 851.25 L487.53 855.39 L488.17 860.16 L488.75 863.75 L489.17 865.18 L489.51 865.44 L490 865.62 L490.76 866.02 L491.67 866.34 L492.5 866.88 L493.15 867.62 L493.73 868.57 L494.38 870 L495.17 872.13 L496.02 874.75 L496.88 877.5 L497.71 880.37 L498.55 883.38 L499.38 886.25 L500.24 889 L501.09 891.62 L501.88 893.75 L502.54 895.2 L503.12 896.17 L503.75 896.88 L504.49 897.4 L505.27 897.67 L506 897.75 L506.62 897.81 L507.19 897.68 L507.75 896.88 L508.29 895.15 L508.82 892.75 L509.38 890 L509.99 886.99 L510.62 883.63 L511.25 880 L511.88 876.06 L512.51 871.85 L513.12 867.5 L513.69 862.59 L514.23 857.55 L514.75 853.75 L515.26 852 L515.75 851.51 L516.25 851.25 L516.76 850.94 L517.27 850.87 L517.75 850.88 L518.17 850.73 L518.57 850.66 L519 851.25 L519.5 852.85 L520.05 855.11 L520.62 857.5 L521.23 859.95 L521.86 862.55 L522.5 865 L523.13 867.2 L523.75 869.26 L524.38 871.25 L525 873.37 L525.63 875.43 L526.25 876.88 L526.87 877.41 L527.5 877.35 L528.12 877.12 L528.77 876.71 L529.42 876.14 L530 875.88 L530.44 875.99 L530.81 876.42 L531.25 877.5 L531.83 879.66 L532.47 882.47 L533.12 885 L533.73 886.85 L534.35 888.43 L535 890 L535.75 891.8 L536.54 893.59 L537.25 895 L537.81 895.92 L538.3 896.44 L538.75 896.5 L539.16 896.17 L539.55 895.36 L540 893.75 L540.58 890.95 L541.23 887.35 L541.88 883.75 L542.53 880.46 L543.17 877.18 L543.75 873.75 L544.21 870.32 L544.61 866.76 L545 862.5 L545.43 856.76 L545.86 850.32 L546.25 845 L546.56 841.48 L546.83 839.07 L547.12 837.5 L547.43 836.67 L547.76 836.67 L548.12 837.5 L548.52 839.51 L548.95 842.36 L549.38 845 L549.79 847.17 L550.21 849.14 L550.62 850.62 L551.04 851.36 L551.46 851.62 L551.88 851.88 L552.29 852.13 L552.71 852.38 L553.12 853.12 L553.54 854.6 L553.96 856.57 L554.38 858.75 L554.79 861.18 L555.21 863.82 L555.62 866.25 L556.02 868.27 L556.41 870.07 L556.88 871.88 L557.47 873.68 L558.13 875.49 L558.75 877.5 L559.27 879.88 L559.75 882.48 L560.25 885 L560.77 887.5 L561.31 889.93 L561.88 891.88 L562.49 893.12 L563.12 893.87 L563.75 894.38 L564.37 894.7 L565 894.79 L565.62 894.75 L566.27 894.5 L566.92 894.12 L567.5 894 L567.96 894.35 L568.36 894.95 L568.75 895.62 L569.14 896.36 L569.54 897.15 L570 897.75 L570.58 898.09 L571.23 898.23 L571.88 898.12 L572.53 897.78 L573.17 897.19 L573.75 896.25 L574.19 894.95 L574.56 893.31 L575 891.25 L575.58 888.54 L576.23 885.42 L576.88 882.5 L577.5 879.91 L578.13 877.52 L578.75 875.62 L579.35 874.42 L579.95 873.7 L580.62 873.12 L581.41 872.61 L582.26 872.25 L583.12 871.88 L583.95 871.41 L584.79 870.93 L585.62 870.62 L586.49 870.54 L587.35 870.64 L588.12 870.88 L588.73 871.19 L589.25 871.66 L589.75 872.5 L590.26 873.82 L590.75 875.52 L591.25 877.5 L591.75 879.91 L592.24 882.59 L592.75 885 L593.25 886.87 L593.77 888.47 L594.38 890 L595.15 891.58 L596.01 893.08 L596.88 894.38 L597.71 895.43 L598.55 896.27 L599.38 896.88 L600.21 897.17 L601.05 897.23 L601.88 897.25 L602.74 897.31 L603.59 897.34 L604.38 897.25 L605.07 897.19 L605.7 897.01 L606.25 896.25 L606.69 894.79 L607.06 892.74 L607.5 890 L608.09 886.25 L608.75 881.81 L609.38 877.5 L609.94 873.4 L610.48 869.44 L611 866.25 L611.5 864.15 L612 862.8 L612.5 861.88 L613.02 861.32 L613.56 861.18 L614.12 861.25 L614.72 861.43 L615.35 861.83 L616 862.5 L616.7 863.54 L617.42 864.86 L618.12 866.25 L618.76 867.57 L619.38 868.95 L620 870.62 L620.63 872.7 L621.25 875.07 L621.88 877.5 L622.53 880.13 L623.17 882.83 L623.75 885 L624.19 886.37 L624.56 887.2 L625 887.75 L625.58 887.99 L626.23 887.94 L626.88 887.88 L627.53 887.79 L628.17 887.68 L628.75 887.88 L629.21 888.58 L629.61 889.58 L630 890.62 L630.39 891.7 L630.79 892.83 L631.25 893.75 L631.83 894.32 L632.47 894.68 L633.12 895 L633.75 895.27 L634.37 895.5 L635 895.88 L635.63 896.63 L636.25 897.53 L636.88 898.12 L637.53 898.15 L638.17 897.86 L638.75 897.5 L639.19 897.27 L639.56 896.97 L640 896.25 L640.58 894.88 L641.23 893.1 L641.88 891.25 L642.5 889.42 L643.13 887.52 L643.75 885.62 L644.38 883.82 L645.01 882.01 L645.62 880 L646.2 877.42 L646.74 874.63 L647.25 872.5 L647.69 871.42 L648.08 871.01 L648.5 871 L648.98 871.42 L649.49 872.25 L650 873.12 L650.5 874.09 L650.99 875.1 L651.5 875.62 L652.04 875.32 L652.6 874.54 L653.12 873.75 L653.57 873.01 L653.97 872.27 L654.38 871.88 L654.79 871.97 L655.21 872.4 L655.62 873.12 L656.04 874.27 L656.46 875.69 L656.88 876.88 L657.27 877.58 L657.66 878.05 L658.12 878.5 L658.71 878.88 L659.38 879.25 L660 880 L660.52 881.34 L661.01 883.06 L661.5 885 L662.02 887.26 L662.56 889.72 L663.12 891.88 L663.73 893.55 L664.36 894.92 L665 896 L665.6 896.73 L666.21 897.16 L666.88 897.5 L667.69 897.76 L668.57 897.93 L669.38 898.12 L670.05 898.44 L670.65 898.78 L671.25 899 L671.88 899.13 L672.51 899.13 L673.12 898.75 L673.69 897.99 L674.23 896.84 L674.75 895 L675.27 892.01 L675.77 888.33 L676.25 885 L676.68 882.29 L677.07 879.93 L677.5 878.12 L677.99 877.1 L678.51 876.64 L679 876.25 L679.44 876.11 L679.84 876.04 L680.25 875 L680.67 872.34 L681.08 868.7 L681.5 865 L681.93 861.16 L682.35 857.25 L682.75 854.38 L683.1 853.1 L683.43 852.87 L683.75 853.12 L684.06 853.7 L684.38 854.77 L684.75 856.25 L685.21 858.38 L685.73 860.92 L686.25 863.12 L686.75 864.56 L687.24 865.65 L687.75 866.88 L688.28 868.36 L688.83 869.98 L689.38 871.88 L689.93 874.31 L690.47 877.02 L691 879.38 L691.49 881.11 L691.98 882.5 L692.5 883.75 L693.08 884.82 L693.69 885.74 L694.38 886.88 L695.17 888.43 L696.02 890.19 L696.88 891.88 L697.75 893.51 L698.62 895.07 L699.38 896.25 L699.95 896.93 L700.41 897.24 L700.88 897.25 L701.42 897.05 L701.96 896.56 L702.5 895.62 L703 894.11 L703.5 892.16 L704 890 L704.52 887.66 L705.06 885.12 L705.62 882.5 L706.23 879.69 L706.86 876.8 L707.5 874.38 L708.13 872.64 L708.75 871.37 L709.38 870.38 L710 869.78 L710.63 869.46 L711.25 869 L711.88 868.13 L712.51 867.11 L713.12 866.25 L713.69 865.65 L714.23 865.22 L714.75 865 L715.26 864.93 L715.75 865.07 L716.25 865.62 L716.75 866.69 L717.24 868.17 L717.75 870 L718.27 872.27 L718.81 874.88 L719.38 877.5 L719.99 880.12 L720.62 882.73 L721.25 885 L721.85 886.69 L722.45 888.04 L723.12 889.38 L723.91 890.88 L724.76 892.39 L725.62 893.75 L726.48 894.98 L727.33 896.07 L728.12 896.88 L728.79 897.32 L729.4 897.48 L730 897.5 L730.64 897.48 L731.27 897.32 L731.88 896.88 L732.44 896.23 L732.98 895.3 L733.5 893.75 L733.99 891.43 L734.48 888.5 L735 885 L735.6 880.79 L736.24 876.02 L736.88 871.25 L737.53 866.46 L738.17 861.67 L738.75 857.5 L739.2 854.12 L739.59 851.37 L740 849.38 L740.48 848.38 L740.98 848.15 L741.5 848.12 L742.02 848.07 L742.56 848.24 L743.12 848.75 L743.73 849.68 L744.36 850.95 L745 852.5 L745.6 854.31 L746.21 856.39 L746.88 858.75 L747.67 861.48 L748.52 864.49 L749.38 867.5 L750.21 870.49 L751.05 873.47 L751.88 876.25 L752.71 878.7 L753.55 880.94 L754.38 883.12 L755.21 885.3 L756.05 887.41 L756.88 889.38 L757.75 891.28 L758.61 893.04 L759.38 894.38 L759.99 895.14 L760.5 895.48 L761 895.62 L761.51 895.76 L762 895.69 L762.5 895 L763 893.66 L763.49 891.69 L764 888.75 L764.53 884.44 L765.07 879.17 L765.62 873.75 L766.17 868.29 L766.72 862.69 L767.25 857.5 L767.77 852.71 L768.27 848.33 L768.75 845 L769.19 843.1 L769.61 842.25 L770 841.88 L770.34 841.88 L770.66 842.36 L771 843.12 L771.39 844.29 L771.81 845.74 L772.25 846.88 L772.72 847.45 L773.21 847.71 L773.75 847.88 L774.37 847.86 L775.03 847.76 L775.62 848.12 L776.09 848.97 L776.48 850.29 L776.88 852.5 L777.29 856.37 L777.71 861.13 L778.12 865 L778.53 867.13 L778.93 868.36 L779.38 869.38 L779.9 870.19 L780.46 870.79 L781 871.88 L781.49 873.78 L781.98 876.16 L782.5 878.75 L783.1 881.67 L783.74 884.79 L784.38 887.5 L785 889.5 L785.63 891.08 L786.25 892.5 L786.87 893.83 L787.5 894.99 L788.12 896 L788.76 896.93 L789.4 897.71 L790 898.12 L790.54 898.16 L791.03 897.84 L791.5 896.88 L791.94 895.31 L792.34 893.1 L792.75 890 L793.17 885.74 L793.58 880.58 L794 875 L794.42 868.98 L794.83 862.55 L795.25 856.25 L795.67 850.05 L796.08 843.98 L796.5 838.75 L796.92 834.55 L797.33 831.19 L797.75 828.75 L798.15 827.52 L798.56 827.22 L799 827.12 L799.5 826.94 L800.05 826.95 L800.62 827.25 L801.23 827.87 L801.86 828.77 L802.5 830 L803.13 831.48 L803.75 833.27 L804.38 835.62 L805 838.68 L805.63 842.29 L806.25 846.25 L806.88 850.56 L807.51 855.21 L808.12 860 L808.7 865.21 L809.24 870.56 L809.75 875 L810.19 878.06 L810.58 880.21 L811 881.88 L811.47 883.05 L811.96 883.74 L812.5 884.38 L813.1 885.11 L813.74 885.8 L814.38 886.5 L815.02 887.16 L815.65 887.84 L816.25 888.75 L816.79 890.12 L817.28 891.72 L817.75 893.12 L818.17 894.18 L818.57 895.04 L819 895.62 L819.5 895.9 L820.05 895.9 L820.62 895.62 L821.24 895.09 L821.89 894.28 L822.5 893.12 L823.02 891.64 L823.51 889.81 L824 887.5 L824.53 884.54 L825.07 881.09 L825.62 877.5 L826.17 873.63 L826.72 869.63 L827.25 866.25 L827.76 863.8 L828.25 861.98 L828.75 860.62 L829.22 859.76 L829.69 859.36 L830.25 859.12 L830.94 858.97 L831.7 858.97 L832.5 859 L833.34 859 L834.2 859.03 L835 859.12 L835.71 859.12 L836.34 859.18 L836.88 859.75 L837.27 861.05 L837.57 862.87 L837.88 865 L838.24 867.76 L838.61 870.84 L839 873.12 L839.39 874.01 L839.8 874.11 L840.25 874 L840.78 873.78 L841.35 873.37 L841.88 873.12 L842.34 873.01 L842.75 873.07 L843.12 873.75 L843.44 875.49 L843.71 877.85 L844 880 L844.31 881.7 L844.63 883.19 L845 884.38 L845.46 885.15 L845.97 885.62 L846.5 886 L847.04 886.27 L847.6 886.45 L848.12 886.88 L848.57 887.75 L848.97 888.88 L849.38 890 L849.77 891.1 L850.16 892.19 L850.62 893.12 L851.2 893.83 L851.85 894.38 L852.5 894.75 L853.14 894.95 L853.77 894.98 L854.38 894.75 L854.94 894.36 L855.48 893.72 L856 892.5 L856.51 890.67 L857 888.25 L857.5 885 L858.01 880.56 L858.52 875.28 L859 870 L859.44 864.91 L859.84 859.81 L860.25 855 L860.67 850.26 L861.08 845.81 L861.5 842.5 L861.9 840.95 L862.31 840.55 L862.75 840.38 L863.26 840.16 L863.8 840.15 L864.38 840.25 L864.99 840.31 L865.62 840.48 L866.25 841 L866.87 842.08 L867.5 843.52 L868.12 845 L868.76 846.39 L869.4 847.81 L870 849.38 L870.54 851.05 L871.03 852.85 L871.5 855 L871.94 857.64 L872.34 860.62 L872.75 863.75 L873.17 867.18 L873.58 870.74 L874 873.75 L874.4 875.83 L874.81 877.36 L875.25 878.75 L875.78 880.05 L876.35 881.2 L876.88 882.5 L877.31 884.05 L877.69 885.74 L878.12 887.5 L878.63 889.44 L879.18 891.45 L879.75 893.12 L880.33 894.26 L880.92 895.06 L881.5 895.62 L882.05 895.98 L882.58 896.1 L883.12 896 L883.67 895.8 L884.22 895.38 L884.75 894.38 L885.26 892.68 L885.75 890.4 L886.25 887.5 L886.76 883.75 L887.27 879.37 L887.75 875 L888.19 870.93 L888.59 866.85 L889 862.5 L889.43 857.31 L889.85 851.85 L890.25 847.5 L890.6 844.88 L890.93 843.38 L891.25 842.5 L891.57 842.15 L891.9 842.43 L892.25 843.12 L892.65 844.44 L893.07 846.18 L893.5 847.5 L893.92 848.12 L894.33 848.33 L894.75 848.12 L895.17 847.26 L895.58 845.99 L896 845 L896.43 844.47 L896.85 844.22 L897.25 844.38 L897.6 844.93 L897.92 845.9 L898.25 847.5 L898.61 850 L898.99 853.12 L899.38 856.25 L899.76 859.12 L900.16 861.99 L900.62 865 L901.2 868.33 L901.85 871.81 L902.5 875 L903.1 877.73 L903.71 880.19 L904.38 882.5 L905.17 884.72 L906.02 886.81 L906.88 888.75 L907.73 890.58 L908.57 892.27 L909.38 893.75 L910.13 895.09 L910.84 896.23 L911.5 896.88 L912.08 896.95 L912.6 896.53 L913.12 895.62 L913.67 894.19 L914.22 892.27 L914.75 890 L915.25 887.36 L915.73 884.38 L916.25 881.25 L916.85 877.94 L917.48 874.49 L918.12 871.25 L918.75 868.4 L919.37 865.76 L920 863.12 L920.64 860.2 L921.27 857.29 L921.88 855 L922.42 853.64 L922.93 852.91 L923.5 852.5 L924.18 852.4 L924.91 852.61 L925.62 852.88 L926.27 853.12 L926.9 853.41 L927.5 853.75 L928.09 854.14 L928.64 854.57 L929.12 855 L929.45 855.14 L929.71 855.28 L930 856.25 L930.37 858.52 L930.77 861.62 L931.25 865 L931.8 868.66 L932.43 872.59 L933.12 876.25 L933.91 879.49 L934.76 882.45 L935.62 885 L936.43 886.94 L937.24 888.47 L938.12 890 L939.12 891.75 L940.18 893.5 L941.25 895 L942.32 896.14 L943.38 897.03 L944.38 897.75 L945.28 898.34 L946.12 898.77 L946.88 899 L947.55 899.03 L948.15 898.86 L948.75 898.5 L949.37 898.03 L950 897.36 L950.62 896.25 L951.26 894.56 L951.9 892.42 L952.5 890 L953.03 887.08 L953.52 883.89 L954 881.25 L954.44 879.51 L954.87 878.33 L955.38 877.5 L956.02 877.09 L956.74 877.02 L957.5 876.88 L958.33 876.58 L959.2 876.2 L960 875.62 L960.7 874.72 L961.32 873.61 L961.88 872.5 L962.34 871.35 L962.73 870.21 L963.12 869.38 L963.54 868.9 L963.96 868.74 L964.38 869.12 L964.77 870.15 L965.16 871.72 L965.62 873.75 L966.18 876.41 L966.8 879.52 L967.5 882.5 L968.26 885.16 L969.1 887.69 L970 890 L971.02 892.11 L972.1 894.02 L973.12 895.62 L974 896.86 L974.81 897.79 L975.62 898.5 L976.5 898.98 L977.38 899.25 L978.12 899.38 L978.68 899.37 L979.1 899.23 L979.38 899.12" fill="none" stroke="#273748" stroke-width="1.9" stroke-linejoin="round"/>
<path d="M979.38 899.12 L980.21 898.78 L981.39 898.26 L982.5 897.5 L983.38 896.55 L984.19 895.36 L985 893.75 L985.83 891.57 L986.67 888.98 L987.5 886.25 L988.33 883.33 L989.17 880.28 L990 877.5 L990.86 875.08 L991.71 872.94 L992.5 871.25 L993.17 870.13 L993.78 869.45 L994.38 869 L995 868.71 L995.63 868.65 L996.25 868.75 L996.87 868.96 L997.5 869.34 L998.12 870 L998.72 870.97 L999.33 872.22 L1000 873.75 L1000.79 875.65 L1001.64 877.82 L1002.5 880 L1003.31 882.08 L1004.12 884.17 L1005 886.25 L1005.99 888.42 L1007.06 890.58 L1008.12 892.5 L1009.16 894.07 L1010.21 895.4 L1011.25 896.5 L1012.29 897.37 L1013.34 898.02 L1014.38 898.5 L1015.3 898.78 L1016.23 898.89 L1017.5 899 L1019.35 899.18 L1021.55 899.36 L1023.75 899.5 L1025.79 899.57 L1027.82 899.6 L1030 899.62 L1032.69 899.63 L1035.51 899.62 L1037.5 899.62 L1037.5 900 L979.38 900 Z" fill="#fc0d01" fill-opacity="0.05" stroke="none"/>
<path d="M979.38 899.12 L980.21 898.78 L981.39 898.26 L982.5 897.5 L983.38 896.55 L984.19 895.36 L985 893.75 L985.83 891.57 L986.67 888.98 L987.5 886.25 L988.33 883.33 L989.17 880.28 L990 877.5 L990.86 875.08 L991.71 872.94 L992.5 871.25 L993.17 870.13 L993.78 869.45 L994.38 869 L995 868.71 L995.63 868.65 L996.25 868.75 L996.87 868.96 L997.5 869.34 L998.12 870 L998.72 870.97 L999.33 872.22 L1000 873.75 L1000.79 875.65 L1001.64 877.82 L1002.5 880 L1003.31 882.08 L1004.12 884.17 L1005 886.25 L1005.99 888.42 L1007.06 890.58 L1008.12 892.5 L1009.16 894.07 L1010.21 895.4 L1011.25 896.5 L1012.29 897.37 L1013.34 898.02 L1014.38 898.5 L1015.3 898.78 L1016.23 898.89 L1017.5 899 L1019.35 899.18 L1021.55 899.36 L1023.75 899.5 L1025.79 899.57 L1027.82 899.6 L1030 899.62 L1032.69 899.63 L1035.51 899.62 L1037.5 899.62" fill="none" stroke="#fc0d01" stroke-width="1.9" stroke-linejoin="round"/>
</g>
<path d="M138 948 H170" stroke="#273748" stroke-width="3.6" fill="none"/>
<path d="M154 940 L161.7 948 L154 956 L146.3 948 Z" fill="#273748"/>
<path d="M410 948 H442" stroke="#7a30f5" stroke-width="3.6" fill="none"/>
<path d="M813 948 H845" stroke="#fc0d01" stroke-width="3.6" fill="none"/>
</svg>
<div id="txt" style="position:absolute;left:0;top:0;width:1200px;height:1000px;will-change:transform">
<span class="t s1" id="ti0" style="left:248.42px;top:15.81px;font-size:33.3px;color:#333;-webkit-text-stroke-width:0.9px;transform:scaleX(0.7808)">ISES</span>
<span class="t s1" id="ti1" style="left:320.37px;top:15.81px;font-size:33.3px;color:#333;transform:scaleX(0.98)">Solar</span>
<span class="t s1" id="ti2" style="left:407.21px;top:15.81px;font-size:33.3px;color:#333;transform:scaleX(0.9657)">Cycle</span>
<span class="t s1" id="ti3" style="left:498.93px;top:15.81px;font-size:33.3px;color:#333;transform:scaleX(1.0063)">Sunspot</span>
<span class="t s1" id="ti4" style="left:635.47px;top:15.81px;font-size:33.3px;color:#333;transform:scaleX(1.0248)">Number</span>
<span class="t s1" id="ti5" style="left:769.6px;top:15.81px;font-size:33.3px;color:#333;transform:scaleX(1.017)">Progression</span>
<span class="t s2" id="xt0" style="left:532.86px;top:741.78px;font-size:24.6px;color:#666;transform:scaleX(1.0245)">Universal</span>
<span class="t s2" id="xt1" style="left:647.09px;top:741.78px;font-size:24.6px;color:#666;transform:scaleX(1.0435)">Time</span>
<span class="t b s4" id="la0" style="left:180.62px;top:934.73px;font-size:24.3px;color:#333;transform:scaleX(1.0528)">Monthly</span>
<span class="t b s4" id="la1" style="left:290.05px;top:934.73px;font-size:24.3px;color:#333;transform:scaleX(1.0329)">Values</span>
<span class="t b s4" id="lb0" style="left:452.55px;top:934.73px;font-size:24.3px;color:#333;transform:scaleX(1.0294)">Smoothed</span>
<span class="t b s4" id="lb1" style="left:583.61px;top:934.73px;font-size:24.3px;color:#333;transform:scaleX(1.0506)">Monthly</span>
<span class="t b s4" id="lb2" style="left:692.05px;top:934.73px;font-size:24.3px;color:#333;transform:scaleX(1.0373)">Values</span>
<span class="t b s4" id="lc0" style="left:856.29px;top:934.73px;font-size:24.3px;color:#333;transform:scaleX(1.0317)">Predicted</span>
<span class="t b s4" id="lc1" style="left:980.05px;top:934.73px;font-size:24.3px;color:#333;transform:scaleX(1.0418)">Values</span>
<span class="t s3" id="cr0" style="left:791.1px;top:968.48px;font-size:25.9px;color:#000;transform:scaleX(0.9616)">Space</span>
<span class="t s3" id="cr1" style="left:872.38px;top:968.48px;font-size:25.9px;color:#000;transform:scaleX(1.0262)">Weather</span>
<span class="t s3" id="cr2" style="left:981.93px;top:968.48px;font-size:25.9px;color:#000;transform:scaleX(1.0887)">Prediction</span>
<span class="t s3" id="cr3" style="left:1117.03px;top:968.48px;font-size:25.9px;color:#000;transform:scaleX(1.0537)">Center</span>
<span class="t b s4" id="x2010" style="left:205.43px;top:699.79px;font-size:28.6px;color:#000;transform:scaleX(1.0594)">2010</span>
<span class="t b s4" id="x2015" style="left:380.94px;top:699.79px;font-size:28.6px;color:#000;transform:scaleX(1.0555)">2015</span>
<span class="t b s4" id="x2020" style="left:555.93px;top:699.79px;font-size:28.6px;color:#000;transform:scaleX(1.0594)">2020</span>
<span class="t b s4" id="x2025" style="left:731.94px;top:699.79px;font-size:28.6px;color:#000;transform:scaleX(1.0555)">2025</span>
<span class="t b s4" id="x2030" style="left:907.43px;top:699.79px;font-size:28.6px;color:#000;transform:scaleX(1.0594)">2030</span>
<span class="t b s4" id="y150" style="left:116px;top:248.04px;font-size:28.6px;color:#000;transform:scaleX(1.0289)">150</span>
<span class="t b s4" id="y100" style="left:116px;top:383.99px;font-size:28.6px;color:#000;transform:scaleX(1.0289)">100</span>
<span class="t b s4" id="y50" style="left:133.26px;top:518.29px;font-size:28.6px;color:#000;transform:scaleX(1.009)">50</span>
<span class="t b s4" id="y0" style="left:148.33px;top:654.29px;font-size:28.6px;color:#000;transform:scaleX(1.0386)">0</span>
<span class="t b s4" id="c24" style="left:352.38px;top:632.75px;font-size:30.3px;color:#000;transform:scaleX(0.9982)">24</span>
<span class="t b s4" id="c25" style="left:767.39px;top:632.75px;font-size:30.3px;color:#000;transform:scaleX(0.9876)">25</span>
<span class="t s3" id="n1800" style="left:351.22px;top:825.02px;font-size:23.6px;color:#000;transform:scaleX(1.0184)">1800</span>
<span class="t s3" id="n1900" style="left:639.75px;top:825.02px;font-size:23.6px;color:#000;transform:scaleX(1.018)">1900</span>
<span class="t s3" id="n2000" style="left:928.43px;top:825.02px;font-size:23.6px;color:#000;transform:scaleX(1.0241)">2000</span>
<div id="ytitle" style="position:absolute;left:48.6px;top:506.6px;width:0;height:0;transform:rotate(-90deg);transform-origin:0 0">
<span class="t s2" id="yt0" style="left:-1px;top:-21.08px;font-size:24.9px;color:#666;transform:scaleX(0.9987)">Sunspot</span>
<span class="t s2" id="yt1" style="left:99.73px;top:-21.08px;font-size:24.9px;color:#666;transform:scaleX(1.0593)">Number</span>
</div>
</div>
<svg width="1200" height="1000" viewBox="0 0 1200 1000" style="position:absolute;left:0;top:0">
<rect x="947" y="821" width="68" height="79.5" fill="#6685c2" fill-opacity="0.3"/>
<path d="M196 820.8 H1040 M947 820.8 V900.5 H1015 V820.8" fill="none" stroke="#ccc" stroke-width="1.7"/>
<rect x="939" y="845" width="16" height="30" fill="#f2f2f2" stroke="#999" stroke-width="1.7"/>
<path d="M945.1 852 v15.5 M948.9 852 v15.5" stroke="#999" stroke-width="1.7" fill="none"/>
<rect x="1007" y="845" width="16" height="30" fill="#f2f2f2" stroke="#999" stroke-width="1.7"/>
<path d="M1013.1 852 v15.5 M1016.9 852 v15.5" stroke="#999" stroke-width="1.7" fill="none"/>
</svg>
</body></html>
